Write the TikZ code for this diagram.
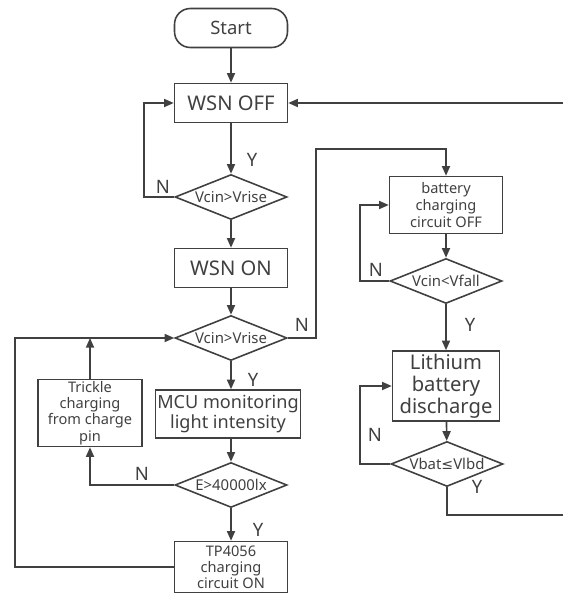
\documentclass[tikz,border=0pt]{standalone}
\usepackage{fontspec}
\setmainfont{Noto Sans}
\newfontfamily\symfont{DejaVu Sans}
\usetikzlibrary{arrows.meta,shapes.geometric}
\definecolor{ink}{HTML}{404040}

\begin{document}
\begin{tikzpicture}[x=0.02cm, y=-0.02cm, line width=0.9pt, draw=ink, text=ink,
	box/.style={draw, rectangle, minimum width=2.26cm, minimum height=0.78cm, inner sep=1pt, align=center},
	term/.style={box, rounded corners=9pt},
	dec/.style={draw, diamond, aspect=2.5, minimum width=2.24cm, minimum height=0.9cm, inner sep=0pt, font=\fontsize{8.5}{9}\selectfont},
	lbl/.style={font=\fontsize{10.5}{11}\selectfont, inner sep=0pt},
	arr/.style={-{Triangle[length=5.5pt,width=4.6pt]}}]
	\useasboundingbox (0,0) rectangle (563,594);

	% left column
	\node[term, font=\fontsize{10.5}{11}\selectfont] (start) at (231,28) {Start};
	\node[box, font=\fontsize{11.5}{12}\selectfont] (off) at (231,103) {WSN OFF};
	\node[dec] (d1) at (231,197) {Vcin>Vrise};
	\node[box, font=\fontsize{11.5}{12}\selectfont] (on) at (231,268) {WSN ON};
	\node[dec] (d2) at (231,338) {Vcin>Vrise};
	\node[box, minimum width=2.9cm, minimum height=0.96cm, font=\fontsize{10.3}{11.5}\selectfont] (mcu) at (228,414) {MCU monitoring\\light intensity};
	\node[dec] (d3) at (231,485) {E>40000lx};
	\node[box, minimum width=2.08cm, minimum height=1.34cm, inner sep=0pt, font=\fontsize{8.3}{9.2}\selectfont] (trk) at (90,413) {Trickle\\charging\\from charge\\pin};
	\node[box, minimum height=1.02cm, inner sep=0pt, font=\fontsize{8.3}{9}\selectfont] (tp) at (231,567) {TP4056\\charging\\circuit ON};

	% right column
	\node[box, minimum height=1.14cm, inner sep=0pt, font=\fontsize{8.3}{9.5}\selectfont] (bat) at (446,205) {battery\\charging\\circuit OFF};
	\node[dec] (d4) at (446,281) {Vcin<Vfall};
	\node[box, minimum width=2.14cm, minimum height=1.4cm, inner sep=0pt, font=\fontsize{11.5}{12.6}\selectfont] (li) at (446,386) {Lithium\\battery\\discharge};
	\node[dec] (d5) at (447,464) {Vbat{\symfont\fontsize{8}{9}\selectfont ≤}Vlbd};

	\draw[arr] (start) -- (off);
	\draw[arr] (off) -- (d1);
	\draw[arr] (d1) -- (on);
	\draw[arr] (on) -- (d2);
	\draw[arr] (d1.west) -- ++(-30,0) |- (off.west);
	\draw[arr] (d2.south) -- (d2.south |- mcu.north);
	\draw[arr] (mcu.south -| d3.north) -- (d3.north);
	\draw[arr] (d3) -- (tp);
	\draw[arr] (d3.west) -| (trk.south);
	\draw[arr] (trk.north) -- (trk.north |- d2.west);
	\draw[arr] (tp.west) -- ++(-159,0) |- (d2.west);
	\draw[arr] (d2.east) -| (316,149) -| (bat.north);
	\draw[arr] (bat) -- (d4);
	\draw[arr] (d4.west) -- ++(-29,0) |- (bat.west);
	\draw[arr] (d4) -- (li);
	\draw[arr] (li) -- (d5);
	\draw[arr] (d5.west) -- ++(-30,0) |- (li.west);
	\draw[arr] (d5.south) |- (567,515) |- (off.east); % runs off the page edge

	\node[lbl] at (252,160) {Y};
	\node[lbl] at (163,187) {N};
	\node[lbl] at (302,325) {N};
	\node[lbl] at (253,380) {Y};
	\node[lbl] at (142,474) {N};
	\node[lbl] at (258,530) {Y};
	\node[lbl] at (376,270) {N};
	\node[lbl] at (470,325) {Y};
	\node[lbl] at (375,435) {N};
	\node[lbl] at (477,487) {Y};
\end{tikzpicture}
\end{document}
